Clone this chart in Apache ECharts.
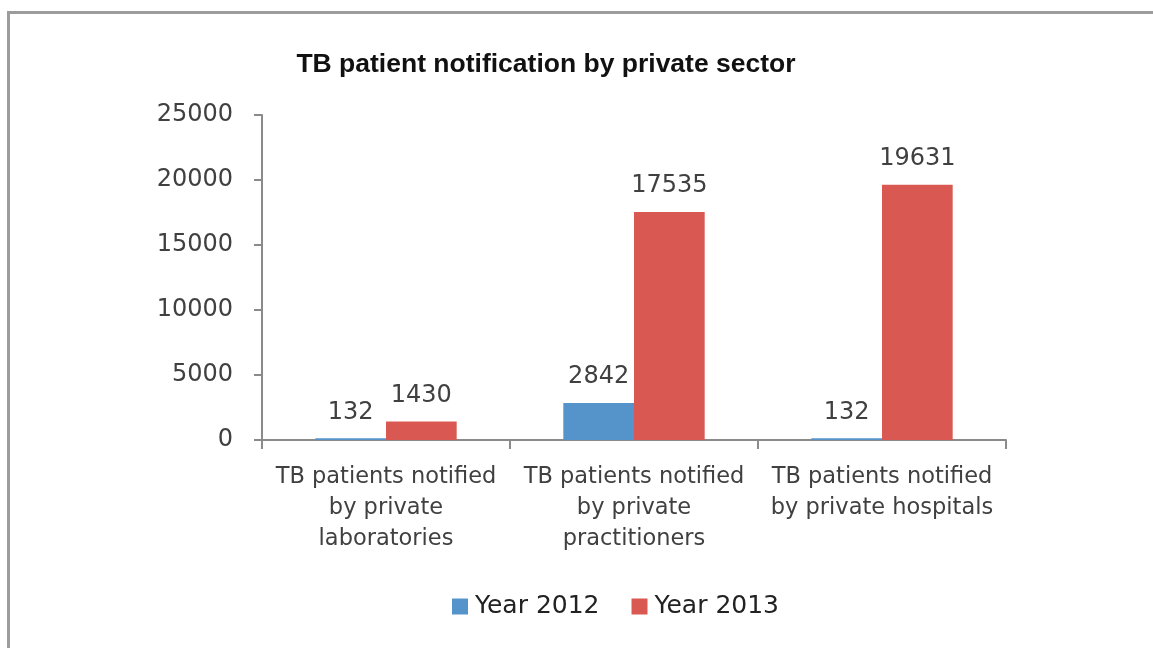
<!DOCTYPE html>
<html>
<head>
<meta charset="utf-8">
<script src="https://cdn.jsdelivr.net/npm/echarts@6/dist/echarts.min.js"></script>
<style>
  html, body { margin: 0; padding: 0; background: #fff; overflow: hidden; }
  #frame {
    position: absolute; left: 7px; top: 11px; width: 1300px; height: 800px;
    border-left: 3px solid #9c9c9c; border-top: 3px solid #9c9c9c;
  }
  #main { position: absolute; left: 0; top: 0; width: 1153px; height: 648px; }
</style>
</head>
<body>
<div id="frame"></div>
<div id="main"></div>
<script>
var categories = [
    "TB patients notified\nby private\nlaboratories",
    "TB patients notified\nby private\npractitioners",
    "TB patients notified\nby private hospitals"
];
var year2012 = [132, 2842, 132];
var year2013 = [1430, 17535, 19631];
var yTicks = { min: 0, max: 25000, interval: 5000 };

var chart = echarts.init(document.getElementById('main'));

var labelStyle = {
    show: true,
    position: 'top',
    distance: 14,
    fontFamily: 'DejaVu Sans',
    fontSize: 24,
    color: '#404040'
};

chart.setOption({
    animation: false,
    title: {
        text: 'TB patient notification by private sector',
        left: 541,
        textAlign: 'center',
        top: 46,
        textStyle: {
            fontFamily: 'Liberation Sans',
            fontWeight: 'bold',
            fontSize: 26.5,
            color: '#111'
        }
    },
    legend: {
        left: 452,
        top: 594,
        padding: 0,
        icon: 'rect',
        itemWidth: 16,
        itemHeight: 16,
        itemGap: 32,
        textStyle: {
            fontFamily: 'DejaVu Sans',
            fontSize: 25,
            color: '#222',
            padding: [0, 0, 0, 2]
        },
        data: ['Year 2012', 'Year 2013']
    },
    grid: { left: 262, right: 147, top: 115, bottom: 208 },
    xAxis: {
        type: 'category',
        data: categories,
        axisLine: { lineStyle: { color: '#8a8a8a', width: 2 } },
        axisTick: { show: true, length: 9, lineStyle: { color: '#8a8a8a', width: 2 } },
        axisLabel: {
            margin: 22,
            interval: 0,
            fontFamily: 'DejaVu Sans',
            fontSize: 22.5,
            lineHeight: 31,
            color: '#404040',
            align: 'center'
        }
    },
    yAxis: {
        type: 'value',
        min: yTicks.min,
        max: yTicks.max,
        interval: yTicks.interval,
        splitLine: { show: false },
        axisLine: { show: true, lineStyle: { color: '#8a8a8a', width: 2 } },
        axisTick: { show: true, length: 8, lineStyle: { color: '#8a8a8a', width: 2 } },
        axisLabel: {
            margin: 29,
            fontFamily: 'DejaVu Sans',
            fontSize: 24,
            color: '#404040',
            formatter: function (v) { return String(v); }
        }
    },
    series: [
        {
            name: 'Year 2012',
            type: 'bar',
            data: year2012,
            barGap: '0%',
            barCategoryGap: '43%',
            itemStyle: { color: '#5494CB' },
            label: labelStyle
        },
        {
            name: 'Year 2013',
            type: 'bar',
            data: year2013,
            itemStyle: { color: '#D95851' },
            label: labelStyle
        }
    ]
});
</script>
</body>
</html>
